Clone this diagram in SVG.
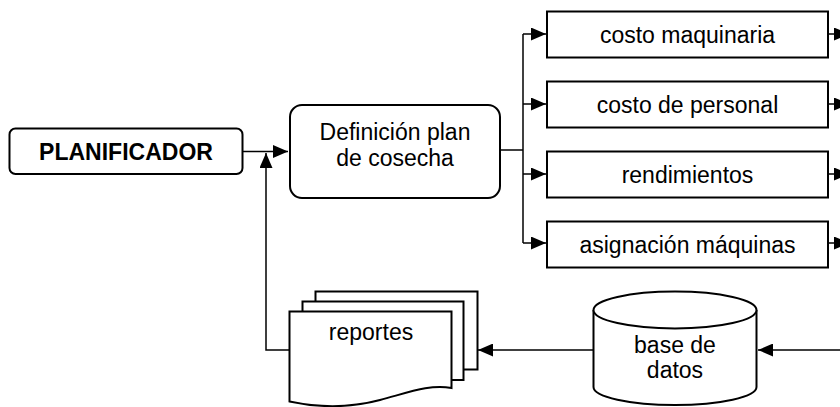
<svg xmlns="http://www.w3.org/2000/svg" width="840" height="407" viewBox="0 0 840 407">
<defs>
<marker id="ah" markerUnits="userSpaceOnUse" markerWidth="15" markerHeight="13" refX="15" refY="6.5" orient="auto">
<path d="M0,0 L15,6.5 L0,13 z" fill="#000"/>
</marker>
<style>
.box{fill:#fff;stroke:#000;stroke-width:2}
.ln{fill:none;stroke:#000;stroke-width:1.5}
.t{font-family:"Liberation Sans",Arial,sans-serif;font-size:23px;fill:#000;text-anchor:middle}
.b{font-weight:bold}
</style>
</defs>
<rect width="840" height="407" fill="#fff"/>
<g id="connectors">
<path class="ln" d="M243,151.5 H288" marker-end="url(#ah)"/>
<path class="ln" d="M289,350 H266 V153" marker-end="url(#ah)"/>
<path class="ln" d="M500,150 H523"/>
<path class="ln" d="M523,34 V243"/>
<path class="ln" d="M523,34 H546" marker-end="url(#ah)"/>
<path class="ln" d="M523,104 H546" marker-end="url(#ah)"/>
<path class="ln" d="M523,174 H546" marker-end="url(#ah)"/>
<path class="ln" d="M523,243 H546" marker-end="url(#ah)"/>
<path class="ln" d="M828,34 H849" marker-end="url(#ah)"/>
<path class="ln" d="M828,104 H849" marker-end="url(#ah)"/>
<path class="ln" d="M828,174 H849" marker-end="url(#ah)"/>
<path class="ln" d="M828,243 H849" marker-end="url(#ah)"/>
<path class="ln" d="M593,350 H478" marker-end="url(#ah)"/>
<path class="ln" d="M840,350 H758" marker-end="url(#ah)"/>
</g>
<g id="planificador">
<rect class="box" x="9.5" y="128.5" width="233" height="45.5" rx="6"/>
<text class="t b" x="126" y="160">PLANIFICADOR</text>
</g>
<g id="definicion">
<rect class="box" x="290" y="105" width="210" height="93" rx="12"/>
<text class="t" x="395" y="140">Definición plan</text>
<text class="t" x="395" y="166">de cosecha</text>
</g>
<g id="costo-maquinaria">
<rect class="box" x="547" y="11.5" width="281" height="46"/>
<text class="t" x="687.5" y="43">costo maquinaria</text>
</g>
<g id="costo-personal">
<rect class="box" x="547" y="81.5" width="281" height="46"/>
<text class="t" x="687.5" y="113">costo de personal</text>
</g>
<g id="rendimientos">
<rect class="box" x="547" y="151.5" width="281" height="46"/>
<text class="t" x="687.5" y="183">rendimientos</text>
</g>
<g id="asignacion">
<rect class="box" x="547" y="221.5" width="281" height="46"/>
<text class="t" x="687.5" y="253">asignación máquinas</text>
</g>
<g id="reportes">
<rect class="box" x="315.5" y="291.5" width="162" height="78"/>
<rect class="box" x="302.5" y="301.5" width="161" height="78.5"/>
<path class="box" d="M289.5,311.5 H451.5 V388 C 430,384 410,392 380,400 C 350,408 320,408 289.5,401.5 Z"/>
<text class="t" x="371" y="340">reportes</text>
</g>
<g id="base-datos">
<path class="box" d="M593.5,310 V387 A81.5,18 0 0 0 756.5,387 V310"/>
<ellipse class="box" cx="675" cy="310" rx="81.5" ry="18.5"/>
<text class="t" x="675" y="353">base de</text>
<text class="t" x="675" y="378">datos</text>
</g>
</svg>
